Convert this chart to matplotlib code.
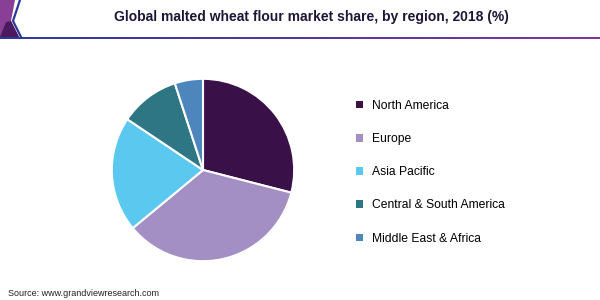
import matplotlib.pyplot as plt
from matplotlib.patches import Polygon
from matplotlib.lines import Line2D
import numpy as np

# data
regions = ['North America', 'Europe', 'Asia Pacific',
           'Central & South America', 'Middle East & Africa']
shares = [29.0, 35.0, 20.4, 10.6, 5.0]
colors = ['#3a1048', '#a38fc4', '#5bc8f0', '#2e7684', '#4c86bc']

W, H = 600, 300
fig = plt.figure(figsize=(6, 3), dpi=100)
fig.patch.set_facecolor('white')


def px(x, y):
    # pixel coords (top-left origin) -> figure fraction
    return x / W, 1 - y / H


# header decoration
deco = Polygon([px(0, 0), px(15, 0), px(11, 21), px(19, 37), px(0, 37)],
               closed=True, transform=fig.transFigure, facecolor='#8a3f96',
               edgecolor='none')
fig.patches.append(deco)
deco_dark = Polygon([px(0, 37), px(6, 22), px(11, 21), px(19, 37)],
                    closed=True, transform=fig.transFigure,
                    facecolor='#4a1a5c', edgecolor='none')
fig.patches.append(deco_dark)
edge = Line2D(*zip(px(20, 0), px(13, 21), px(21, 37)),
              transform=fig.transFigure, color='#2b3a9a', lw=1.6)
fig.lines.append(edge)

# gradient rule under the header
rule = fig.add_axes([0, 1 - 39.5 / H, 1, 2.5 / H])
grad = np.linspace(0, 1, 256)
rule_cols = np.array([[0.17 + 0.33 * t, 0.23 - 0.02 * t, 0.60 + 0.02 * t] for t in grad])
rule.imshow(rule_cols[np.newaxis, :, :], aspect='auto', extent=(0, 1, 0, 1))
rule.axis('off')

fig.text(*px(311, 17), 'Global malted wheat flour market share, by region, 2018 (%)',
         ha='center', va='center', fontsize=10, fontweight='bold',
         color='#1e1538', family='Liberation Sans')

# pie
cx, cy, r = 203, 170, 93
ax = fig.add_axes([(cx - r) / W, (H - cy - r) / H, 2 * r / W, 2 * r / H])
wedges, _ = ax.pie(shares, colors=colors, startangle=90, counterclock=False,
                   radius=1, wedgeprops=dict(edgecolor='white', linewidth=1.5))
ax.set_xlim(-1.02, 1.02)
ax.set_ylim(-1.02, 1.02)
ax.set_aspect('equal')
ax.axis('off')

# legend
leg = fig.legend(wedges, regions, loc='upper left',
                 bbox_to_anchor=px(356, 100), frameon=False,
                 prop=dict(family='Liberation Sans', size=8.7),
                 handlelength=0.58, handleheight=0.58, handletextpad=0.75,
                 labelspacing=1.75, borderpad=0, borderaxespad=0)
for h in leg.legend_handles:
    h.set_edgecolor('none')

fig.text(*px(8, 293), 'Source: www.grandviewresearch.com', ha='left', va='center',
         fontsize=6.5, color='#222222', family='Liberation Sans')

fig.savefig('out.png', dpi=100)
